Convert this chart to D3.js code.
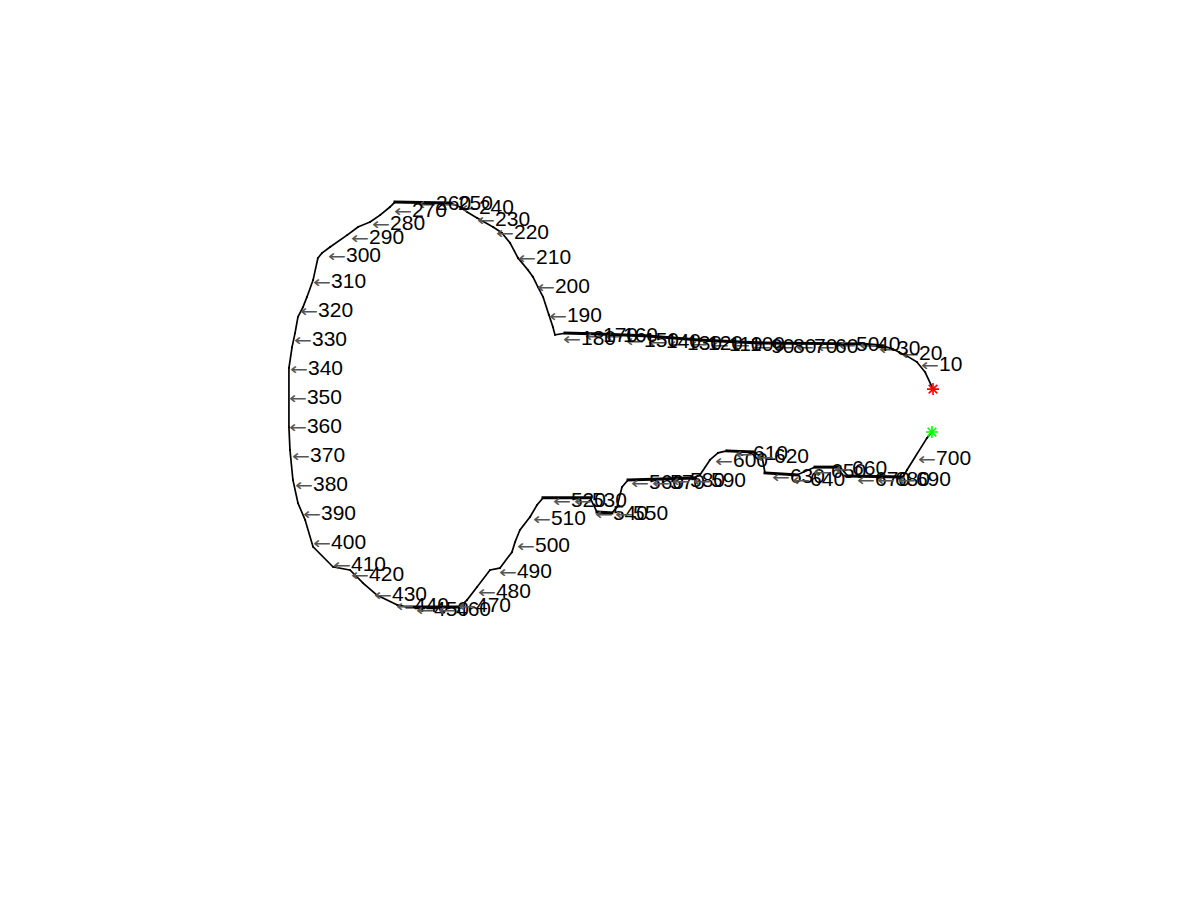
<!DOCTYPE html>
<html><head><meta charset="utf-8">
<script src="https://cdn.jsdelivr.net/npm/d3@7"></script>
<style>body{margin:0;background:#fff}</style>
</head><body>
<svg id="chart" width="1200" height="900"></svg>
<script>
// Boundary outline vertices (image column / row units)
const pathCol = [370.0, 366.2, 362.4, 357.6, 351.0, 346.2, 335.2, 287.6, 259.0, 235.2,
                 211.4, 194.8, 190.0, 189.0, 187.1, 184.3, 181.9, 179.5, 177.1, 172.4,
                 168.6, 164.8, 160.5, 152.9, 148.1, 144.8, 140.0, 113.8, 111.4, 106.7,
                 101.9, 96.2, 91.0, 82.9, 79.0, 77.1, 74.8, 71.9, 70.0, 67.6,
                 66.2, 64.8, 63.3, 63.3, 63.8, 65.2, 67.6, 71.0, 74.8, 84.3,
                 92.4, 98.6, 105.2, 114.8, 119.5, 144.8, 148.1, 152.9, 159.0, 163.8,
                 169.5, 171.0, 173.3, 178.1, 181.4, 184.3, 206.7, 210.0, 217.1, 219.5,
                 221.9, 224.8, 255.7, 259.0, 263.8, 267.6, 271.9, 284.3, 288.6, 290.0,
                 305.2, 313.8, 325.7, 329.5, 355.7, 357.6, 367.1, 369.5];
const pathRow = [110.9, 105.0, 101.6, 99.5, 97.1, 96.0, 95.3, 95.0, 94.0, 92.6,
                 91.9, 91.6, 92.2, 89.5, 85.3, 79.1, 75.7, 72.2, 69.8, 65.7,
                 60.5, 57.1, 55.0, 51.9, 49.8, 48.1, 46.7, 46.4, 48.1, 50.9,
                 53.3, 55.0, 57.8, 61.9, 64.0, 65.7, 73.3, 79.1, 82.6, 86.0,
                 91.6, 96.4, 103.6, 124.0, 131.9, 142.2, 150.2, 156.0, 165.3, 172.2,
                 173.3, 177.8, 181.9, 185.3, 186.0, 186.0, 183.6, 179.1, 173.3, 172.6,
                 167.1, 163.6, 159.5, 155.0, 150.9, 148.4, 148.4, 153.3, 153.6, 151.6,
                 144.7, 142.2, 141.6, 140.5, 135.3, 132.9, 132.2, 132.6, 134.3, 139.8,
                 140.5, 137.8, 137.8, 140.9, 141.2, 138.8, 127.8, 125.7];

// Every 10th boundary point (labelled 10, 20, ..., 700)
const labelCol = [364.3, 354.8, 344.3, 334.8, 324.8, 314.8, 304.8, 294.8, 284.3, 274.3,
                  264.3, 254.3, 244.3, 234.3, 223.8, 213.8, 204.3, 193.8, 187.1, 181.4,
                  172.4, 161.9, 152.9, 145.2, 135.2, 124.8, 113.3, 102.9, 92.9, 81.9,
                  74.8, 68.6, 65.7, 63.8, 63.3, 63.3, 64.8, 66.2, 70.0, 74.8,
                  84.3, 92.9, 103.8, 114.3, 123.8, 134.3, 143.8, 153.3, 163.3, 171.9,
                  179.5, 189.0, 199.0, 209.0, 218.6, 226.2, 236.2, 245.7, 255.7, 266.2,
                  275.7, 285.7, 293.3, 302.9, 312.9, 322.9, 333.8, 343.3, 353.3, 362.9];
const labelRow = [102.2, 98.1, 96.4, 95.3, 95.3, 96.0, 96.0, 96.0, 96.0, 95.0,
                  95.0, 94.7, 94.7, 94.0, 93.6, 92.2, 91.9, 93.0, 85.3, 75.3,
                  65.3, 56.7, 52.2, 47.8, 46.7, 46.7, 49.1, 53.3, 58.1, 64.3,
                  73.3, 83.3, 93.3, 103.3, 113.3, 123.3, 133.3, 143.3, 153.3, 163.3,
                  170.9, 174.3, 181.2, 185.0, 186.7, 186.7, 185.0, 180.2, 173.3, 164.3,
                  155.0, 148.8, 148.8, 153.3, 153.3, 142.9, 142.6, 142.2, 141.9, 135.0,
                  132.6, 133.6, 140.5, 141.6, 138.8, 137.8, 141.6, 141.6, 141.6, 134.3];
const labelStep = 10;

const startPoint = [370.0, 110.9];
const endPoint = [369.5, 125.7];

const svg = d3.select("#chart");
const x = d3.scaleLinear().domain([0, 443]).range([156, 1086.3]);
const y = d3.scaleLinear().domain([0, 253]).range([67.5, 801.2]);

// outline segments
const segs = d3.range(pathCol.length - 1).map(i => ({
  x1: x(pathCol[i]), y1: y(pathRow[i]), x2: x(pathCol[i+1]), y2: y(pathRow[i+1])
}));
svg.append("g").selectAll("line").data(segs).join("line")
  .attr("x1", d => d.x1).attr("y1", d => d.y1)
  .attr("x2", d => d.x2).attr("y2", d => d.y2)
  .attr("stroke", "#000")
  .attr("stroke-linecap", "square")
  .attr("stroke-width", d => {
    const dx = Math.abs(d.x2 - d.x1), dy = Math.abs(d.y2 - d.y1);
    return (dx > 12 && dy < 0.15 * dx) ? 3 : 1.7;
  });

// labels
const fs = 21;
const labels = svg.append("g").selectAll("text").data(labelCol.map((c, i) => ({
  px: x(c), py: y(labelRow[i]), t: String((i + 1) * labelStep)
}))).join("text")
  .attr("x", d => d.px).attr("y", d => d.py + 0.36 * fs)
  .style("font-family", "'Liberation Sans', Arial, Helvetica, sans-serif")
  .style("font-size", fs + "px");
labels.append("tspan")
  .attr("x", d => d.px)
  .attr("textLength", 18).attr("lengthAdjust", "spacingAndGlyphs")
  .style("font-family", "'DejaVu Sans', sans-serif")
  .style("font-size", "17px")
  .attr("fill", "#555")
  .text("\u2190");
labels.append("tspan")
  .attr("x", d => d.px + 18)
  .attr("fill", "#000")
  .text(d => d.t);

// start / end markers
function star(g, p, color) {
  const cx = x(p[0]), cy = y(p[1]), r = 6, q = 4.3;
  g.append("path")
    .attr("d", `M${cx-r},${cy}H${cx+r}M${cx},${cy-r}V${cy+r}M${cx-q},${cy-q}L${cx+q},${cy+q}M${cx-q},${cy+q}L${cx+q},${cy-q}`)
    .attr("stroke", color).attr("stroke-width", 1.6).attr("fill", "none");
}
star(svg, startPoint, "#ff0000");
star(svg, endPoint, "#00ff00");
</script>
</body></html>
